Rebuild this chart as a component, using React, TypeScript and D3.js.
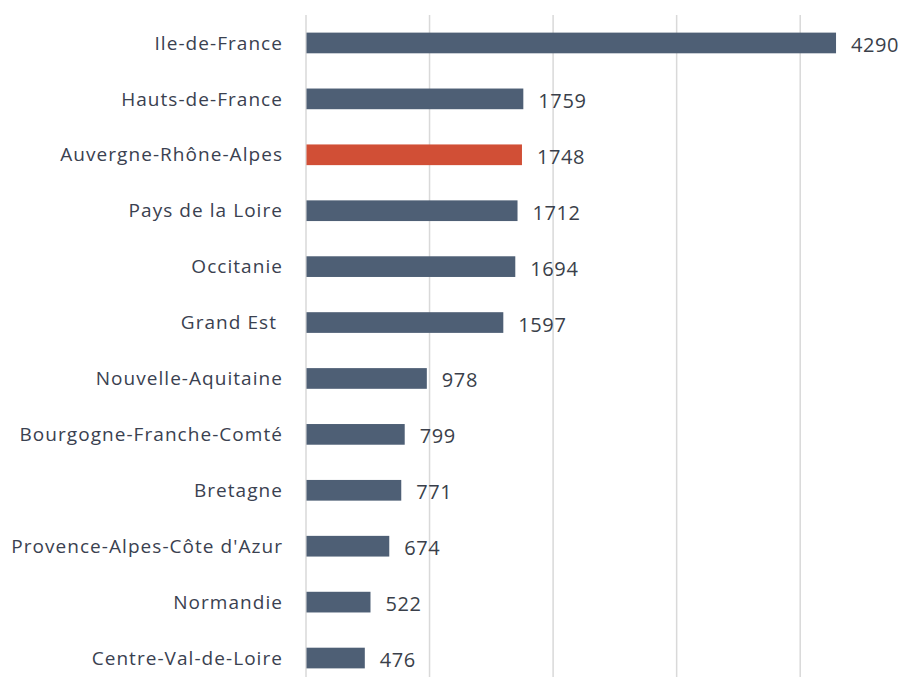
import { useEffect, useRef } from "react";
import * as d3 from "d3";

const regions = [
  "Ile-de-France",
  "Hauts-de-France",
  "Auvergne-Rhône-Alpes",
  "Pays de la Loire",
  "Occitanie",
  "Grand Est ",
  "Nouvelle-Aquitaine",
  "Bourgogne-Franche-Comté",
  "Bretagne",
  "Provence-Alpes-Côte d'Azur",
  "Normandie",
  "Centre-Val-de-Loire",
];
const counts = [4290, 1759, 1748, 1712, 1694, 1597, 978, 799, 771, 674, 522, 476];
const highlighted = "Auvergne-Rhône-Alpes";
const gridTicks = [0, 1000, 2000, 3000, 4000];

const width = 916;
const height = 677;

export default function App() {
  const ref = useRef<SVGSVGElement>(null);

  useEffect(() => {
    const svg = d3.select(ref.current);
    svg.selectAll("*").remove();

    const x = d3.scaleLinear().domain([0, 5000]).range([306, 306 + 5 * 123.55]);
    const y = d3
      .scaleBand<string>()
      .domain(regions)
      .range([15, 686])
      .paddingInner(0.63)
      .paddingOuter(0.315);

    const data = regions.map((r, i) => ({ region: r, value: counts[i] }));

    // vertical grid lines
    svg
      .append("g")
      .selectAll("line")
      .data(gridTicks)
      .join("line")
      .attr("x1", (d) => x(d))
      .attr("x2", (d) => x(d))
      .attr("y1", 15)
      .attr("y2", height)
      .attr("stroke", "#d9d9d9")
      .attr("stroke-width", 1.5);

    svg
      .append("g")
      .selectAll("rect")
      .data(data)
      .join("rect")
      .attr("x", x(0) + 0.5)
      .attr("y", (d) => y(d.region)!)
      .attr("width", (d) => x(d.value) - x(0) - 0.5)
      .attr("height", y.bandwidth())
      .attr("fill", (d) => (d.region === highlighted ? "#d14f36" : "#4e5f75"));

    // category labels
    svg
      .append("g")
      .selectAll("text")
      .data(data)
      .join("text")
      .attr("x", 283)
      .attr("y", (d) => y(d.region)! + y.bandwidth() / 2)
      .attr("dy", "0.35em")
      .attr("text-anchor", "end")
      .attr("font-family", "'Open Sans', sans-serif")
      .attr("font-size", 19)
      .attr("letter-spacing", 1.05)
      .attr("fill", "#3a4150")
      .style("white-space", "pre")
      .text((d) => d.region);

    // value labels
    svg
      .append("g")
      .selectAll("text")
      .data(data)
      .join("text")
      .attr("x", (d) => x(d.value) + 15)
      .attr("y", (d) => y(d.region)! + y.bandwidth() / 2 + 2)
      .attr("dy", "0.35em")
      .attr("font-family", "'Open Sans', sans-serif")
      .attr("font-size", 20)
      .attr("letter-spacing", 0.6)
      .attr("fill", "#3a3f4a")
      .text((d) => d.value);
  }, []);

  return (
    <svg
      ref={ref}
      width={width}
      height={height}
      style={{ position: "absolute", left: 0, top: 0, background: "#fff" }}
    />
  );
}
